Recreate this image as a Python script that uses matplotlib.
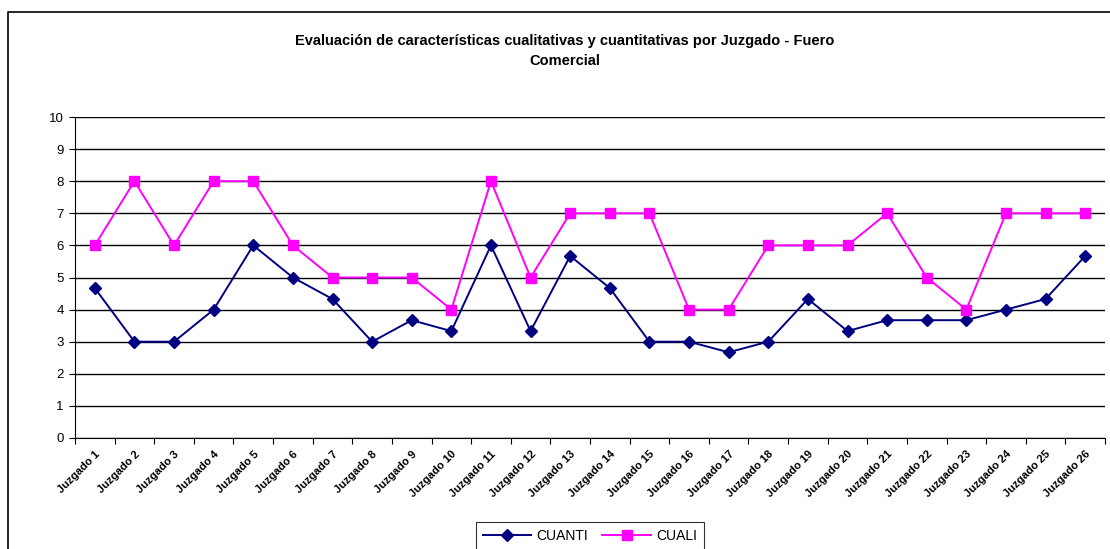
import matplotlib
matplotlib.use("Agg")
import matplotlib.pyplot as plt
from matplotlib.lines import Line2D
from matplotlib.transforms import ScaledTranslation

plt.rcParams['font.family'] = ['Liberation Sans', 'DejaVu Sans']

# datos
juzgados = ['Juzgado %d' % i for i in range(1, 27)]
cuanti = [4.67, 3, 3, 4, 6, 5, 4.33, 3, 3.67, 3.33, 6, 3.33, 5.67,
          4.67, 3, 3, 2.67, 3, 4.33, 3.33, 3.67, 3.67, 3.67, 4, 4.33, 5.67]
cuali = [6, 8, 6, 8, 8, 6, 5, 5, 5, 4, 8, 5, 7,
         7, 7, 4, 4, 6, 6, 6, 7, 5, 4, 7, 7, 7]
titulo = 'Evaluación de características cualitativas y cuantitativas por Juzgado - Fuero\nComercial'

fig = plt.figure(figsize=(11.1, 5.49), dpi=100)
ax = fig.add_axes([75/1110, 1-438/549, 1030/1110, 321/549])

x = range(len(juzgados))
ax.plot(x, cuanti, color='#000080', marker='D', markersize=6, lw=1.4,
        label='CUANTI', zorder=3)
ax.plot(x, cuali, color='#FF00FF', marker='s', markersize=7.5, lw=1.4,
        label='CUALI', zorder=3)

ax.set_xlim(-0.5, len(juzgados) - 0.5)
ax.set_ylim(0, 10)
ax.set_yticks(range(0, 11))
ax.yaxis.grid(True, color='black', lw=1)
ax.set_axisbelow(True)
for s in ['top', 'right']:
    ax.spines[s].set_visible(False)

# ticks entre categorias, etiquetas centradas
ax.set_xticks([i - 0.5 for i in range(len(juzgados) + 1)])
ax.set_xticklabels([])
ax.set_xticks(list(x), minor=True)
ax.set_xticklabels(juzgados, minor=True, rotation=45, ha='right',
                   rotation_mode='anchor', fontsize=8, fontweight='bold')
desplaz = ScaledTranslation(-8/100, 0, fig.dpi_scale_trans)
for t in ax.get_xticklabels(minor=True):
    t.set_transform(t.get_transform() + desplaz)
ax.tick_params(axis='x', which='minor', length=0, pad=8)
ax.tick_params(axis='x', which='major', length=4, direction='out')
ax.tick_params(axis='y', length=4, labelsize=9.5, pad=4)

fig.text(565/1110, 1-51/549, titulo, ha='center', va='center',
         fontsize=10.5, fontweight='bold', linespacing=1.6)

leg = fig.legend(loc='upper center', bbox_to_anchor=(590/1110, 1-515/549),
                 ncol=2, fontsize=10, frameon=True, fancybox=False,
                 edgecolor='black', handlelength=3.5, columnspacing=1,
                 borderpad=0.5, handletextpad=0.4)
leg.get_frame().set_linewidth(0.8)

# borde del area del grafico
fig.lines.append(Line2D([8/1110, 8/1110, 1], [0, 1-12/549, 1-12/549],
                        transform=fig.transFigure, color='black', lw=1.2))

fig.savefig('out.png', dpi=100)
